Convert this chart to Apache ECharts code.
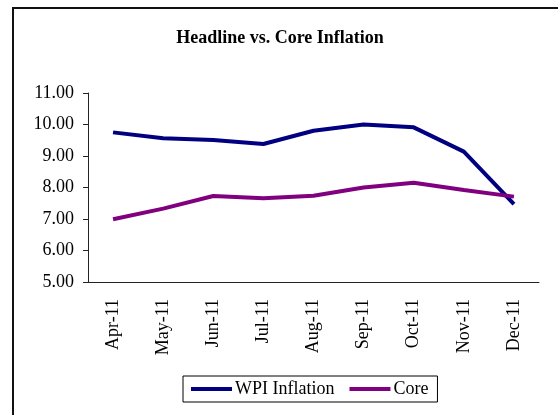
<!DOCTYPE html>
<html><head><meta charset="utf-8">
<script src="https://cdn.jsdelivr.net/npm/echarts@6/dist/echarts.min.js"></script>
<style>html,body{margin:0;padding:0;background:#fff;}#c{width:558px;height:415px;}</style>
</head><body><div id="c"></div>
<script>
const categories = ['Apr-11','May-11','Jun-11','Jul-11','Aug-11','Sep-11','Oct-11','Nov-11','Dec-11'];
const wpiInflation = [9.75, 9.56, 9.51, 9.38, 9.80, 10.00, 9.91, 9.14, 7.47];
const coreInflation = [6.99, 7.33, 7.73, 7.66, 7.74, 8.00, 8.15, 7.92, 7.71];
const yTicks = [5, 6, 7, 8, 9, 10, 11];

const serif = '"Liberation Serif", "DejaVu Serif", serif';
const chart = echarts.init(document.getElementById('c'));
chart.setOption({
  animation: false,
  backgroundColor: '#fff',
  title: {
    text: 'Headline vs. Core Inflation',
    left: 275, top: 24, textAlign: 'center',
    textStyle: {fontFamily: serif, fontSize: 18, fontWeight: 'bold', color: '#000'}
  },
  graphic: [{
    type: 'rect', shape: {x: 13, y: 8, width: 600, height: 500},
    style: {fill: 'none', stroke: '#111', lineWidth: 2}, z: -1
  }],
  legend: {
    left: 183, top: 376,
    borderColor: '#000', borderWidth: 1,
    padding: [4, 9, 4, 8],
    itemWidth: 41, itemHeight: 4, itemGap: 15, icon: 'rect',
    textStyle: {fontFamily: serif, fontSize: 18, color: '#000', padding: [0, 0, 0, -2]},
    data: ['WPI Inflation', 'Core']
  },
  grid: {left: 88, top: 93, right: 19, bottom: 133, containLabel: false},
  xAxis: {
    type: 'category', data: categories, boundaryGap: true,
    axisLine: {lineStyle: {color: '#222', width: 1}},
    axisTick: {length: 5, alignWithLabel: false, lineStyle: {color: '#222'}},
    axisLabel: {rotate: 90, margin: 17, fontFamily: serif, fontSize: 18, color: '#000'}
  },
  yAxis: {
    type: 'value', min: yTicks[0], max: yTicks[yTicks.length - 1], interval: 1,
    splitLine: {show: false},
    axisLine: {show: true, lineStyle: {color: '#222', width: 1}},
    axisTick: {show: true, length: 5, lineStyle: {color: '#222'}},
    axisLabel: {margin: 14, fontFamily: serif, fontSize: 18, color: '#000',
      formatter: v => v.toFixed(2)}
  },
  series: [
    {name: 'WPI Inflation', type: 'line', data: wpiInflation, showSymbol: false, symbol: 'none',
      lineStyle: {color: '#000080', width: 4}, itemStyle: {color: '#000080'}},
    {name: 'Core', type: 'line', data: coreInflation, showSymbol: false, symbol: 'none',
      lineStyle: {color: '#800080', width: 4}, itemStyle: {color: '#800080'}}
  ]
});
</script></body></html>
